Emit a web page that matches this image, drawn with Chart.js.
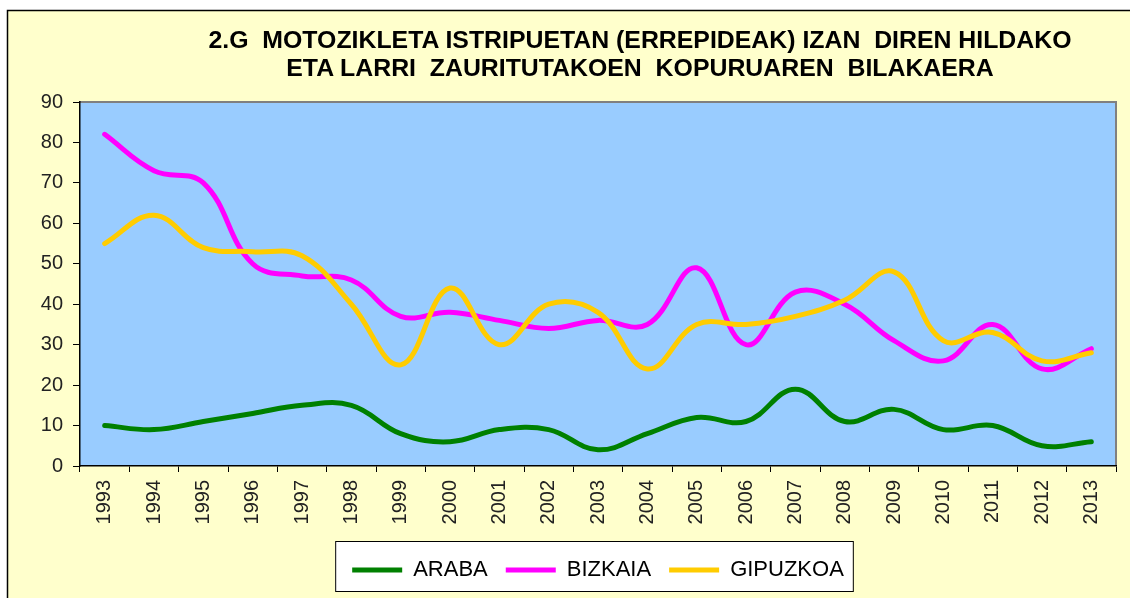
<!DOCTYPE html>
<html>
<head>
<meta charset="utf-8">
<script src="https://cdn.jsdelivr.net/npm/chart.js@4/dist/chart.umd.min.js"></script>
<style>
  html, body { margin: 0; padding: 0; background: #ffffff; }
  #wrap { position: relative; width: 1130px; height: 598px; overflow: hidden; }
  #title {
    position: absolute; left: 140px; width: 1000px; top: 26px;
    text-align: center; font-family: "Liberation Sans", Arial, sans-serif;
    font-weight: bold; font-size: 23px; line-height: 28px; color: #000;
    white-space: pre; transform: scaleX(1.08); transform-origin: 500px 0;
  }
  canvas { position: absolute; left: 0; top: 0; }
</style>
</head>
<body>
<div id="wrap">
  <canvas id="chart" width="1130" height="598"></canvas>
  <div id="title">2.G  MOTOZIKLETA ISTRIPUETAN (ERREPIDEAK) IZAN  DIREN HILDAKO
ETA LARRI  ZAURITUTAKOEN  KOPURUAREN  BILAKAERA</div>
</div>
<script>
// years on the x axis
const years = ['1993', '1994', '1995', '1996', '1997', '1998', '1999', '2000', '2001', '2002',
  '2003', '2004', '2005', '2006', '2007', '2008', '2009', '2010', '2011', '2012', '2013'];

// values per territory
const araba    = [10, 9, 11, 13, 15, 15, 8, 6, 9, 9, 4, 8, 12, 11, 19, 11, 14, 9, 10, 5, 6];
const bizkaia  = [82, 73, 70, 50, 47, 46, 37, 38, 36, 34, 36, 35, 49, 30, 43, 40, 31, 26, 35, 24, 29];
const gipuzkoa = [55, 62, 54, 53, 52, 40, 25, 44, 30, 40, 38, 24, 35, 35, 37, 41, 48, 31, 33, 26, 28];

const seriesNames = ['ARABA', 'BIZKAIA', 'GIPUZKOA'];
const yTicks = [0, 10, 20, 30, 40, 50, 60, 70, 80, 90];

const FONT = '"Liberation Sans", Arial, sans-serif';

// yellow page, blue plot area, boxed legend
const backdrop = {
    id: 'backdrop',
    beforeDraw(chart) {
        const c = chart.ctx;
        const a = chart.chartArea;
        c.save();
        c.fillStyle = '#ffffcc';
        c.fillRect(7, 10, chart.width - 7, chart.height - 10);
        c.strokeStyle = '#000';
        c.lineWidth = 1.5;
        c.beginPath();
        c.moveTo(7.5, chart.height);
        c.lineTo(7.5, 10.5);
        c.lineTo(chart.width, 10.5);
        c.stroke();

        c.fillStyle = '#99ccff';
        c.fillRect(a.left, a.top, a.right - a.left, a.bottom - a.top);
        c.strokeStyle = '#808080';
        c.lineWidth = 2;
        c.beginPath();
        c.moveTo(a.left, a.top);
        c.lineTo(a.right, a.top);
        c.lineTo(a.right, a.bottom);
        c.stroke();

        const boxes = chart.legend.legendHitBoxes;
        if (boxes && boxes.length) {
            const l = Math.min(...boxes.map(b => b.left)) - 17;
            const r = Math.max(...boxes.map(b => b.left + b.width)) + 9;
            const t = boxes[0].top - 18;
            const h = boxes[0].height + 28;
            c.fillStyle = '#ffffff';
            c.fillRect(l, t, r - l, h);
            c.strokeStyle = '#000';
            c.lineWidth = 1;
            c.strokeRect(l + 0.5, t + 0.5, r - l, h);
        }
        c.restore();
    }
};

new Chart(document.getElementById('chart'), {
    type: 'line',
    data: {
        labels: years,
        datasets: [
            { label: seriesNames[0], data: araba, borderColor: '#008000', backgroundColor: '#008000', order: 2 },
            { label: seriesNames[1], data: bizkaia, borderColor: '#ff00ff', backgroundColor: '#ff00ff', order: 1 },
            { label: seriesNames[2], data: gipuzkoa, borderColor: '#ffcc00', backgroundColor: '#ffcc00', order: 0 }
        ].map(ds => Object.assign(ds, {
            borderWidth: 5,
            tension: 0.4,
            pointRadius: 0,
            borderCapStyle: 'round',
            fill: false
        }))
    },
    options: {
        responsive: false,
        animation: false,
        layout: { padding: { left: 0, top: 102, right: 14, bottom: 7 } },
        plugins: {
            title: { display: false },
            tooltip: { enabled: false },
            legend: {
                position: 'bottom',
                fullSize: false,
                labels: {
                    usePointStyle: true,
                    pointStyle: 'line',
                    pointStyleWidth: 50,
                    boxHeight: 20,
                    padding: 18,
                    color: '#000',
                    font: { family: FONT, size: 22 },
                    sort: (a, b) => a.datasetIndex - b.datasetIndex
                }
            }
        },
        scales: {
            x: {
                offset: true,
                afterFit(scale) { scale.height = 75; },
                grid: { offset: true, drawOnChartArea: false, drawTicks: true, tickLength: 6, color: '#000' },
                border: { color: '#000', width: 1.5 },
                ticks: {
                    minRotation: 90, maxRotation: 90, autoSkip: false,
                    padding: 8, color: '#222',
                    font: { family: FONT, size: 20 }
                }
            },
            y: {
                min: 0, max: 90,
                afterFit(scale) { scale.width = 80; },
                afterBuildTicks(scale) { scale.ticks = yTicks.map(v => ({ value: v })); },
                grid: { drawOnChartArea: false, drawTicks: true, tickLength: 7, color: '#000' },
                border: { color: '#000', width: 1.5 },
                ticks: { padding: 10, color: '#222', font: { family: FONT, size: 20 } }
            }
        }
    },
    plugins: [backdrop]
});
</script>
</body>
</html>
